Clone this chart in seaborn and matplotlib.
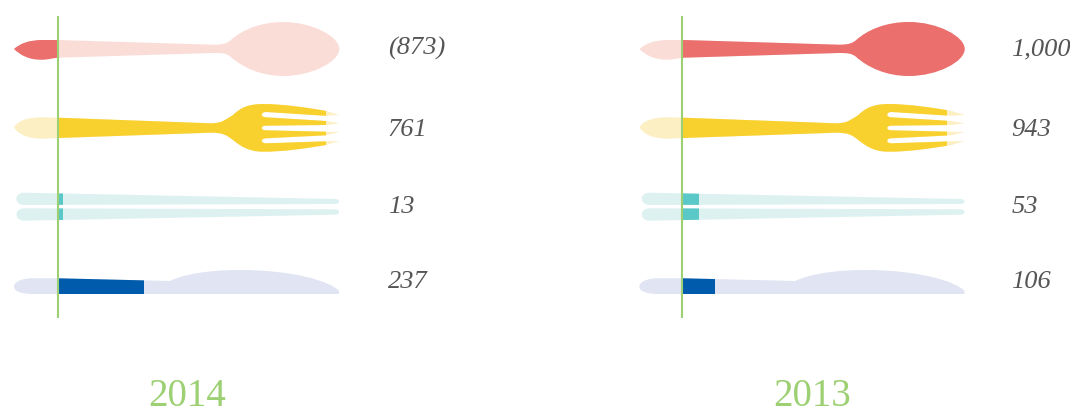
import matplotlib
matplotlib.use("Agg")
import matplotlib.pyplot as plt
import pandas as pd
import seaborn as sns
from matplotlib.patches import PathPatch
from matplotlib.path import Path

items = ["spoon", "fork", "chopsticks", "knife"]
years = ["2014", "2013"]

# printed figures, and how far each silhouette is filled in the picture
values_2014 = [-873, 761, 13, 237]
values_2013 = [1000, 943, 53, 106]
filled_2014 = [-46, 267.7, 4.7, 85.7]
filled_2013 = [290, 265, 17.3, 33]

dark = ["#EA6F6D", "#F9D12E", "#5BC8C8", "#005BAC"]
light = ["#FBDDD8", "#FCEFC3", "#DDF1F0", "#E0E4F3"]
GREEN = "#9CD073"
GREY = "#555555"

ROW_TOP = 48.5
ROW_STEP = 78.3
LABEL_BASE = [55, 136, 213, 288]

# silhouettes in pixels, relative to the baseline and the row centre
SPOON = [
    ("M", (-44.3, 0.5)),
    ("C", (-38, -5), (-30, -8.5), (-15, -8.5)),
    ("L", (0, -8.5)),
    ("L", (155, -3.8)),
    ("C", (165, -3.8), (168, -5), (172, -8)),
    ("C", (184, -19), (203, -26.5), (225, -26.5)),
    ("C", (254, -26.5), (281, -12), (281, 0.5)),
    ("C", (281, 13), (254, 27.5), (225, 27.5)),
    ("C", (203, 27.5), (184, 19), (172, 8)),
    ("C", (168, 5), (165, 4.5), (155, 4.5)),
    ("L", (0, 9.2)),
    ("C", (-5, 9.5), (-10, 11.2), (-17, 11.2)),
    ("C", (-30, 11.2), (-38, 6.5), (-44.3, 0.5)),
]
FORK = [
    ("M", (-44.3, 0.5)),
    ("C", (-40, -6), (-32, -9.5), (-15, -9.5)),
    ("L", (0, -9.1)),
    ("L", (152, -3.5)),
    ("C", (165, -3.5), (168, -8), (175, -12)),
    ("C", (182, -19), (190, -22.8), (205, -22.8)),
    ("C", (225, -22.8), (250, -19), (267, -16)),
    ("L", (281, -11.8)),
    ("L", (267, -11)),
    ("L", (208, -14.8)),
    ("C", (202, -14.8), (202, -9.5), (208, -9.5)),
    ("L", (267.7, -5.8)),
    ("L", (281, -3.5)),
    ("L", (267.7, -1.8)),
    ("L", (208, -1.1)),
    ("C", (202, -1.1), (202, 3.5), (208, 3.5)),
    ("L", (267.7, 4.9)),
    ("L", (281, 5.2)),
    ("L", (267.7, 8.5)),
    ("L", (208, 11.5)),
    ("C", (202, 11.5), (202, 16.5), (208, 16.5)),
    ("L", (267.7, 14.5)),
    ("L", (281, 14.2)),
    ("L", (267.7, 18.2)),
    ("C", (245, 22), (225, 24.9), (205, 24.9)),
    ("C", (190, 24.9), (182, 19), (175, 13.5)),
    ("C", (168, 8), (165, 5.9), (152, 5.9)),
    ("L", (0, 11.2)),
    ("L", (-15, 11.9)),
    ("C", (-32, 11.9), (-40, 7), (-44.3, 0.5)),
]
CHOPSTICKS = [
    ("M", (-34.5, -12.4)),
    ("L", (277, -6.1)),
    ("C", (282, -6.1), (282, -1.1), (277, -1.1)),
    ("L", (-34, -0.1)),
    ("C", (-44.5, -0.1), (-44.5, -12.4), (-34.5, -12.4)),
    ("M", (-34, 3.2)),
    ("L", (277, 4.2)),
    ("C", (282, 4.2), (282, 9.6), (277, 9.6)),
    ("L", (-34, 15.6)),
    ("C", (-44.5, 15.6), (-44.5, 3.2), (-34, 3.2)),
]
KNIFE = [
    ("M", (-44.3, 3.3)),
    ("C", (-44.3, -1.5), (-37, -5.1), (-25, -5.1)),
    ("L", (0, -5.1)),
    ("L", (111.7, -2.4)),
    ("C", (125, -9), (150, -13.4), (181.7, -13.4)),
    ("C", (235, -13.4), (272, -2), (280.7, 7.5)),
    ("L", (280.7, 10.6)),
    ("L", (-25, 10.6)),
    ("C", (-37, 10.6), (-44.3, 8), (-44.3, 3.3)),
]
SHAPES = [SPOON, FORK, CHOPSTICKS, KNIFE]


def row_y(px):
    return (px - ROW_TOP) / ROW_STEP


def shape_path(outline, row, shift):
    verts, codes = [], []
    for cmd, *pts in outline:
        code = {"M": Path.MOVETO, "L": Path.LINETO, "C": Path.CURVE4}[cmd]
        for x, y in pts:
            verts.append((x + shift, row + y / ROW_STEP))
            codes.append(code)
    return Path(verts, codes)


def format_value(v):
    return f"({-v:,})" if v < 0 else f"{v:,}"


def draw_panel(ax, year, values, filled, base_px, left_px, shift, year_x):
    df = pd.DataFrame({"item": items, "filled": filled})
    sns.barplot(data=df, x="filled", y="item", hue="item", order=items, hue_order=items,
                palette=dark, saturation=1, width=0.9, errorbar=None, legend=False,
                dodge=False, linewidth=0, ax=ax)

    for i, (container, outline) in enumerate(zip(ax.containers, SHAPES)):
        back = PathPatch(shape_path(outline, i, shift), facecolor=light[i], edgecolor="none", zorder=0.5)
        ax.add_patch(back)
        for bar in container:
            bar.set_clip_path(back)

    ax.vlines(0, row_y(16), row_y(318), color=GREEN, lw=1.5, zorder=3)

    for i, v in enumerate(values):
        ax.text(329.5, row_y(LABEL_BASE[i]), format_value(v), ha="left", va="baseline",
                fontsize=19, style="italic", color=GREY)
    ax.text(year_x, row_y(406.3), year, ha="center", va="baseline", fontsize=28, color=GREEN)

    ax.set_xlim(left_px - base_px, left_px - base_px + 535)
    ax.set_ylim(row_y(409), row_y(0))
    ax.set_axis_off()


sns.set_theme(style="white")
plt.rcParams["font.family"] = ["Liberation Serif", "DejaVu Serif"]

fig = plt.figure(figsize=(10.7, 4.09), dpi=100)
ax_2014 = fig.add_axes([0, 0, 0.5, 1])
ax_2013 = fig.add_axes([0.5, 0, 0.5, 1])

draw_panel(ax_2014, years[0], values_2014, filled_2014, 58.3, 0, 0, 128.7)
draw_panel(ax_2013, years[1], values_2013, filled_2013, 681.7, 535, 2, 130)

fig.savefig("out.png", dpi=100)
